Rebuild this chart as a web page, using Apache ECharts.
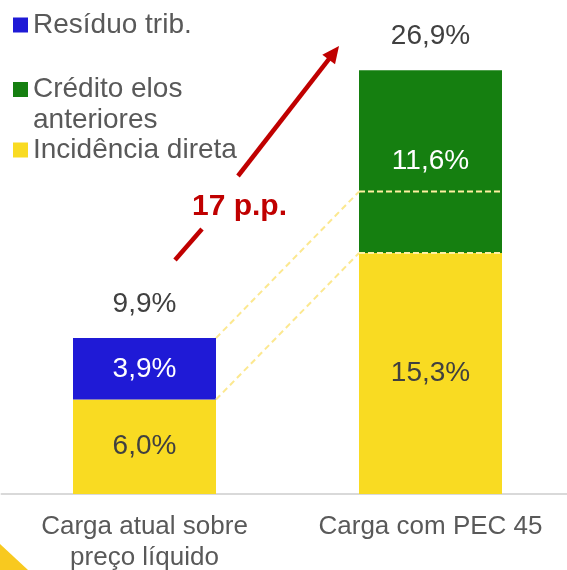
<!DOCTYPE html>
<html>
<head>
<meta charset="utf-8">
<script src="https://cdn.jsdelivr.net/npm/echarts@6/dist/echarts.min.js"></script>
<style>
  html, body { margin: 0; padding: 0; background: #fff; overflow: hidden; }
  #chart { width: 575px; height: 570px; }
</style>
</head>
<body>
<div id="chart"></div>
<script>
// dados
const categorias = ['Carga atual sobre\npreço líquido', 'Carga com PEC 45']
const incidenciaDireta = [6.0, 15.3]
const residuoTrib = [3.9, null]
const creditoElos = [null, 11.6]
const totais = [9.9, 26.9]

const AZUL = '#1F1AD6'
const VERDE = '#157F10'
const AMARELO = '#F9DB22'
const FONTE = '"Liberation Sans", Arial, sans-serif'

const fmt = v => v.toFixed(1).replace('.', ',') + '%'
const BAR_W = 143

const rotuloInterno = (cor) => ({
  show: true,
  position: 'inside',
  color: cor,
  fontSize: 28,
  fontFamily: FONTE,
  formatter: p => fmt(p.value)
})

const legenda = (nome, top, extra) => ({
  data: [nome],
  left: 8,
  top: top,
  orient: 'vertical',
  icon: 'rect',
  itemWidth: 15,
  itemHeight: 15,
  selectedMode: false,
  textStyle: Object.assign({ fontSize: 28, fontFamily: FONTE, color: '#595959' }, extra || {})
})

const chart = echarts.init(document.getElementById('chart'), null, { renderer: 'canvas' })

chart.setOption({
  animation: false,
  backgroundColor: '#fff',
  grid: {
    left: 1.5, right: 1.5, top: 68.75, bottom: 76,
    containLabel: false,
    outerBoundsMode: 'none' // o rótulo de baixo pode encostar na borda, como no original
  },
  legend: [
    legenda('Resíduo trib.', 6),
    // linha vazia no início: o ícone fica alinhado com a primeira linha do texto
    Object.assign(legenda('Crédito elos anteriores', 38, { lineHeight: 31 }), {
      formatter: () => '\nCrédito elos\nanteriores'
    }),
    legenda('Incidência direta', 131)
  ],
  xAxis: {
    type: 'category',
    data: categorias,
    axisLine: { lineStyle: { color: '#D9D9D9', width: 2 } },
    axisTick: { show: false },
    axisLabel: {
      fontSize: 26, fontFamily: FONTE, color: '#595959',
      lineHeight: 31, margin: 17.5, interval: 0
    }
  },
  yAxis: { type: 'value', min: 0, max: 27, show: false, splitLine: { show: false } },
  series: [
    {
      name: 'Incidência direta', type: 'bar', stack: 'carga', barWidth: BAR_W,
      itemStyle: { color: AMARELO },
      label: rotuloInterno('#404040'),
      data: incidenciaDireta
    },
    {
      name: 'Resíduo trib.', type: 'bar', stack: 'carga', barWidth: BAR_W,
      itemStyle: { color: AZUL },
      label: rotuloInterno('#fff'),
      data: residuoTrib
    },
    {
      name: 'Crédito elos anteriores', type: 'bar', stack: 'carga', barWidth: BAR_W,
      itemStyle: { color: VERDE },
      label: rotuloInterno('#fff'),
      data: creditoElos
    },
    {
      // total em cima de cada barra
      name: 'Total', type: 'bar', stack: 'carga', barWidth: BAR_W,
      itemStyle: { color: 'transparent' },
      label: {
        show: true, position: 'top', distance: 20,
        fontSize: 28, fontFamily: FONTE, color: '#404040',
        formatter: p => fmt(totais[p.dataIndex])
      },
      data: totais.map(() => 0)
    }
  ]
})

// linhas tracejadas ligando as barras (posições tiradas das escalas do gráfico)
const px = (i, v) => chart.convertToPixel({ gridIndex: 0 }, [i, v])
const topoAzul = px(0, incidenciaDireta[0] + residuoTrib[0])
const topoAmarelo1 = px(0, incidenciaDireta[0])
const nivelAzul2 = px(1, incidenciaDireta[1] + residuoTrib[0])
const topoAmarelo2 = px(1, incidenciaDireta[1])
const half = BAR_W / 2
const tracejado = { stroke: '#FCE88F', lineWidth: 2, lineDash: [6, 4] }
const tracejadoBarra = { stroke: '#FFF0A0', lineWidth: 2, lineDash: [6, 3] }

const linha = (x1, y1, x2, y2, style) => ({
  type: 'line', silent: true, z: 100,
  shape: { x1, y1, x2, y2 }, style
})

// seta vermelha
const tip = [339, 46]
const dir = [0.608, -0.794]
const perp = [0.794, 0.608]
const baseSeta = [tip[0] - 17 * dir[0], tip[1] - 17 * dir[1]]
const VERMELHO = '#C00000'

chart.setOption({
  graphic: [
    linha(topoAzul[0] + half, topoAzul[1], nivelAzul2[0] - half, nivelAzul2[1], tracejado),
    linha(topoAmarelo1[0] + half, topoAmarelo1[1], topoAmarelo2[0] - half, topoAmarelo2[1], tracejado),
    linha(nivelAzul2[0] - half, nivelAzul2[1], nivelAzul2[0] + half, nivelAzul2[1], tracejadoBarra),
    linha(topoAmarelo2[0] - half, topoAmarelo2[1], topoAmarelo2[0] + half, topoAmarelo2[1], tracejadoBarra),
    linha(175, 260, 202, 229, { stroke: VERMELHO, lineWidth: 4.5 }),
    linha(238, 176, baseSeta[0] + 2 * dir[0], baseSeta[1] + 2 * dir[1], { stroke: VERMELHO, lineWidth: 4.5 }),
    {
      type: 'polygon', silent: true, z: 100,
      shape: {
        points: [
          tip,
          [baseSeta[0] + 8 * perp[0], baseSeta[1] + 8 * perp[1]],
          [baseSeta[0] - 8 * perp[0], baseSeta[1] - 8 * perp[1]]
        ]
      },
      style: { fill: VERMELHO }
    },
    {
      type: 'text', silent: true, z: 100, left: 192, top: 192,
      style: {
        text: '17 p.p.', fill: VERMELHO,
        font: 'bold 30px ' + FONTE
      }
    },
    {
      // detalhe amarelo no canto inferior esquerdo
      type: 'polygon', silent: true, z: 100,
      shape: { points: [[0, 544], [0, 570], [28, 570]] },
      style: { fill: '#F8C91F' }
    }
  ]
})
</script>
</body>
</html>
